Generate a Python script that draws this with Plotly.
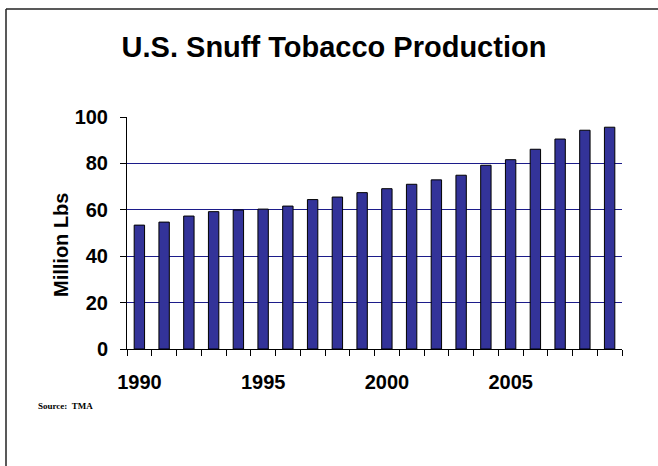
import plotly.graph_objects as go

# Annual U.S. snuff production, million pounds
years = [str(y) for y in range(1990, 2010)]
production = [53.4, 54.7, 57.3, 59.2, 59.9, 60.3, 61.6, 64.4, 65.5, 67.4,
              69.1, 71.0, 72.9, 74.9, 79.2, 81.6, 86.1, 90.5, 94.3, 95.6]
year_labels = [y if int(y) % 5 == 0 else "" for y in years]
y_ticks = [0, 20, 40, 60, 80, 100]

W, H = 658, 466
L, R, T, B = 127, 36, 117, 117
pw, ph = W - L - R, H - T - B


def px_x(x):
    return (x - L) / pw


def px_y(y):
    return (H - B - y) / ph


sans = "Liberation Sans, Arial, sans-serif"

fig = go.Figure(
    go.Bar(
        x=years,
        y=production,
        marker=dict(color="#333399", line=dict(color="black", width=1)),
        width=0.42,
    )
)

fig.update_layout(
    width=W,
    height=H,
    margin=dict(l=L, r=R, t=T, b=B),
    paper_bgcolor="white",
    plot_bgcolor="white",
    showlegend=False,
    title=dict(
        text="U.S. Snuff Tobacco Production",
        font=dict(family=sans, size=29, color="black", weight="bold"),
        xref="paper", x=px_x(334), xanchor="center",
        yref="container", y=1 - 47 / H, yanchor="middle",
    ),
)

fig.update_xaxes(
    type="category",
    tickmode="array",
    tickvals=years,
    ticktext=year_labels,
    tickson="boundaries",
    tickangle=0,
    ticks="outside",
    ticklen=6,
    tickcolor="black",
    showline=True,
    linecolor="black",
    linewidth=1,
    showgrid=False,
    ticklabelstandoff=15,
    tickfont=dict(family=sans, size=20, color="black", weight="bold"),
)

fig.update_yaxes(
    range=[0, 100],
    tickmode="array",
    tickvals=y_ticks,
    ticks="outside",
    ticklen=6,
    tickcolor="black",
    showline=True,
    linecolor="black",
    linewidth=1,
    showgrid=True,
    gridcolor="#1c1c8a",
    gridwidth=1,
    zeroline=False,
    ticklabelstandoff=8,
    tickfont=dict(family=sans, size=20, color="black", weight="bold"),
)

fig.add_annotation(
    text="Million Lbs",
    xref="paper", yref="paper",
    x=px_x(48), y=px_y(245),
    textangle=-90, showarrow=False,
    font=dict(family=sans, size=20, color="black", weight="bold"),
)

fig.add_annotation(
    text="Source:  TMA",
    xref="paper", yref="paper",
    x=px_x(36), y=px_y(406),
    xanchor="left", yanchor="middle", showarrow=False,
    font=dict(family="Liberation Serif, Times New Roman, serif", size=9,
              color="black", weight="bold"),
)

# Frame around the slide, left and top edges
frame = dict(color="#222222", width=1.5)
fig.add_shape(type="line", xref="paper", yref="paper",
              x0=px_x(6), x1=px_x(6), y0=px_y(9), y1=px_y(H + 5), line=frame)
fig.add_shape(type="line", xref="paper", yref="paper",
              x0=px_x(6), x1=px_x(W + 5), y0=px_y(9), y1=px_y(9), line=frame)

fig.write_html("out.html")
